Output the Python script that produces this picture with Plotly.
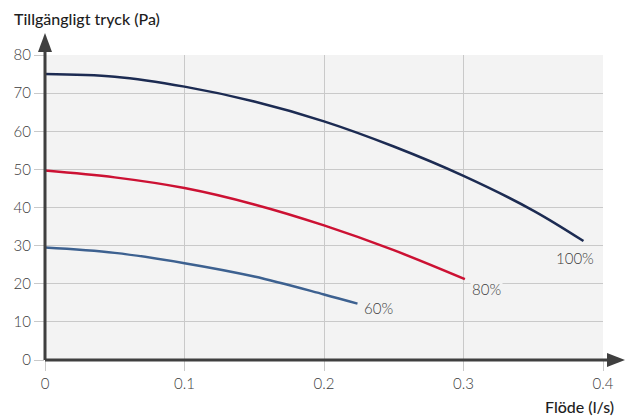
import plotly.graph_objects as go

# flöde (l/s) and tillgängligt tryck (Pa) per fläktsteg
flow_100 = [0, 0.05, 0.1, 0.15, 0.2, 0.25, 0.3, 0.35, 0.386]
pres_100 = [75, 74.3, 71.7, 67.8, 62.6, 56.0, 48.3, 39.2, 31.2]

flow_80 = [0, 0.05, 0.1, 0.15, 0.2, 0.25, 0.301]
pres_80 = [49.7, 47.9, 45.1, 40.8, 35.3, 28.8, 21.2]

flow_60 = [0, 0.05, 0.1, 0.15, 0.2, 0.224]
pres_60 = [29.5, 28.1, 25.4, 21.9, 17.2, 14.8]

x_ticks = [0, 0.1, 0.2, 0.3, 0.4]
x_labels = ["0", "0.1", "0.2", "0.3", "0.4"]
y_ticks = [0, 10, 20, 30, 40, 50, 60, 70, 80]

FONT = "Lato, Noto Sans, sans-serif"
AXIS = "#3f3f3f"
TICKFONT = dict(size=15, color="#3c3c3c", family=FONT, weight=300)

fig = go.Figure()
for fx, py, col, lab in [(flow_100, pres_100, "#1c2b52", "100%"),
                         (flow_80, pres_80, "#cc1133", "80%"),
                         (flow_60, pres_60, "#3d6190", "60%")]:
    fig.add_trace(go.Scatter(x=fx, y=py, mode="lines", name=lab,
                             line=dict(color=col, width=2.5, shape="spline"),
                             hoverinfo="skip"))

# etiketter vid kurvornas slut
fig.add_annotation(x=flow_100[-1], y=pres_100[-1], text="100%", showarrow=False,
                   xanchor="center", yanchor="top", xshift=-8, yshift=-6,
                   font=TICKFONT)
fig.add_annotation(x=flow_80[-1], y=pres_80[-1], text="80%", showarrow=False,
                   xanchor="left", yanchor="top", xshift=5, yshift=1,
                   bgcolor="#f3f3f3", font=TICKFONT)
fig.add_annotation(x=flow_60[-1], y=pres_60[-1], text="60%", showarrow=False,
                   xanchor="left", yanchor="middle", xshift=5, yshift=-4,
                   font=TICKFONT)

# axeltitlar
fig.add_annotation(xref="paper", yref="paper", x=-0.06, y=1.121,
                   text="Tillgängligt tryck (Pa)", showarrow=False,
                   xanchor="left", yanchor="middle",
                   font=dict(size=16, color="#1e1e1e", family=FONT, weight=500))
fig.add_annotation(xref="paper", yref="paper", x=1.024, y=-0.154,
                   text="Flöde (l/s)", showarrow=False,
                   xanchor="right", yanchor="middle",
                   font=dict(size=16, color="#1e1e1e", family=FONT, weight=500))

# axellinjer med pilar
px_x = 1 / 558
px_y = 1 / 305
fig.add_shape(type="line", xref="paper", yref="paper", x0=0, x1=0, y0=0, y1=1.04,
              line=dict(color=AXIS, width=3), layer="above")
fig.add_shape(type="path", xref="paper", yref="paper",
              path=f"M {-7*px_x} {1+3*px_y} L {7*px_x} {1+3*px_y} L 0 {1+22*px_y} Z",
              fillcolor=AXIS, line=dict(width=0), layer="above")
fig.add_shape(type="line", xref="paper", yref="paper", x0=0, x1=1.01, y0=0, y1=0,
              line=dict(color=AXIS, width=3), layer="above")
fig.add_shape(type="path", xref="paper", yref="paper",
              path=f"M {1+4*px_x} {-7*px_y} L {1+4*px_x} {7*px_y} L {1+22*px_x} 0 Z",
              fillcolor=AXIS, line=dict(width=0), layer="above")

fig.update_layout(
    width=626, height=417,
    margin=dict(l=45, r=23, t=55, b=57, autoexpand=False),
    paper_bgcolor="white",
    plot_bgcolor="#f3f3f3",
    showlegend=False,
    font=dict(family=FONT, size=15, color="#3c3c3c"),
    xaxis=dict(range=[0, 0.4], tickvals=x_ticks, ticktext=x_labels,
               showgrid=True, gridcolor="#c9c9c9", gridwidth=1,
               zeroline=False, showline=False, automargin=False,
               ticks="outside", ticklen=10, tickcolor="#c9c9c9",
               tickfont=TICKFONT),
    yaxis=dict(range=[0, 80], tickvals=y_ticks,
               showgrid=True, gridcolor="#c9c9c9", gridwidth=1,
               zeroline=False, showline=False, automargin=False,
               ticks="outside", ticklen=10, tickcolor="#c9c9c9",
               tickfont=TICKFONT),
)

fig.write_html("out.html", config={"displayModeBar": False},
               post_script="document.body.style.margin='0';")
